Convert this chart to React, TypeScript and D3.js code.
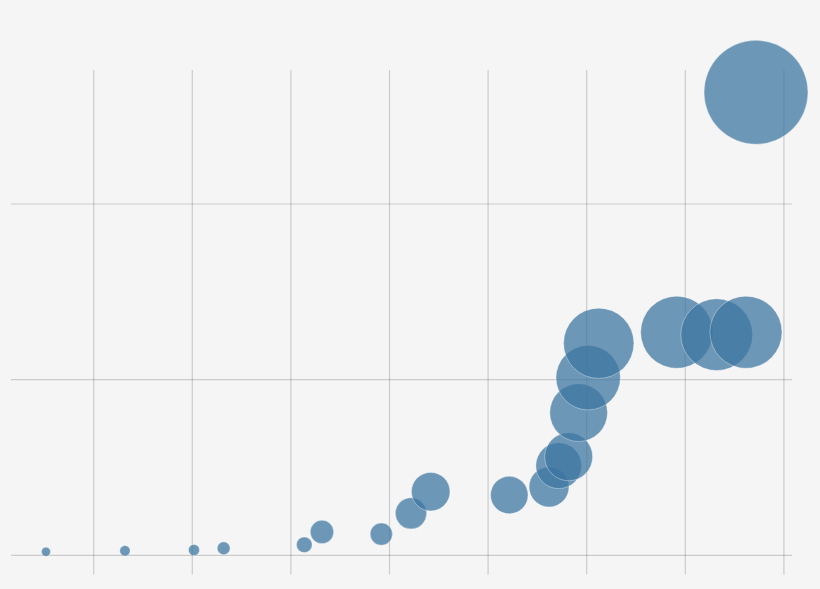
import React from "react";
import * as d3 from "d3";

const xValues = [0.516, 1.317, 2.017, 2.318, 3.136, 3.315, 3.917, 4.218, 4.418, 5.215, 5.618, 5.716, 5.817, 5.918, 6.015, 6.122, 6.913, 7.318, 7.615, 7.717];
const yValues = [0.02, 0.026, 0.03, 0.04, 0.06, 0.133, 0.121, 0.239, 0.362, 0.343, 0.389, 0.51, 0.561, 0.812, 1.011, 1.207, 1.27, 1.256, 1.27, 2.636];
const xTicks = [1, 2, 3, 4, 5, 6, 7, 8];
const yTicks = [0, 1, 2];

const W = 820;
const H = 589;

export default function App() {
  const x = d3.scaleLinear().domain([1, 8]).range([93.7, 783.9]);
  const y = d3.scaleLinear().domain([0, 2]).range([555.3, 204]);
  const r = d3.scaleSqrt().domain([0, 1]).range([0, 32]);
  const data = xValues.map((v, i) => ({ x: v, y: yValues[i] }));
  return (
    <svg
      width={W}
      height={H}
      style={{ position: "fixed", left: 0, top: 0, display: "block", background: "#f5f5f5" }}
    >
      <rect width={W} height={H} fill="#f5f5f5" />
      <g>
        {xTicks.map((t) => (
          <line key={"x" + t} x1={x(t)} x2={x(t)} y1={70} y2={574.5} stroke="#000" strokeOpacity={0.17} strokeWidth={1.2} />
        ))}
        {yTicks.map((t) => (
          <line key={"y" + t} x1={11} x2={792} y1={y(t)} y2={y(t)} stroke="#000" strokeOpacity={0.17} strokeWidth={1.2} />
        ))}
      </g>
      <g>
        {data.map((d, i) => (
          <circle
            key={i}
            cx={x(d.x)}
            cy={y(d.y)}
            r={r(d.y)}
            fill="#3d76a0"
            fillOpacity={0.74}
            stroke="#ffffff"
            strokeOpacity={0.35}
            strokeWidth={1}
          />
        ))}
      </g>
    </svg>
  );
}
